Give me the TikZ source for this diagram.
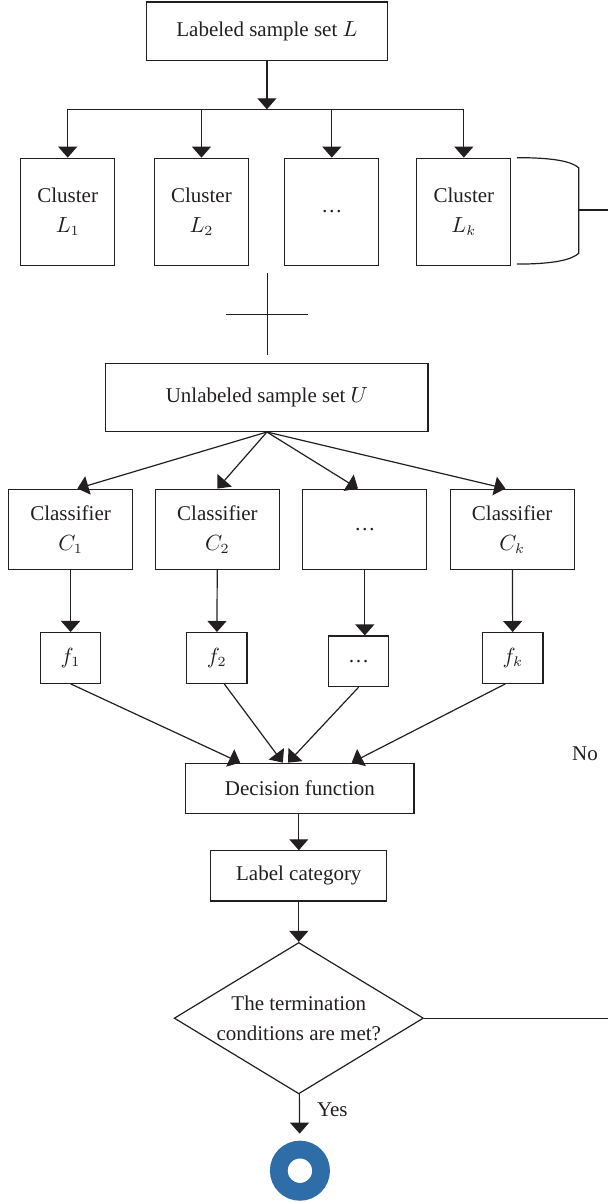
\documentclass[tikz,border=0pt]{standalone}
\usepackage{fontspec}
\setmainfont{Liberation Serif}
\usepackage{tikz}
\usetikzlibrary{positioning,calc,shapes,arrows.meta}
\definecolor{endblue}{RGB}{47,109,168}
\definecolor{ink}{RGB}{35,31,32}
\tikzstyle{box}= [rectangle, draw, align=center, inner sep=0pt]
\tikzstyle{clus}= [box, minimum width=1.65cm, minimum height=1.88cm]
\tikzstyle{clf}= [box, minimum width=2.18cm, minimum height=1.41cm]
\tikzstyle{fbox}= [box, minimum width=1.06cm, minimum height=0.89cm]
\tikzstyle{arr}= [-{Triangle[length=5.5pt,width=9.5pt]}]

\begin{document}
\begin{tikzpicture}[line width=0.6pt, color=ink, font=\fontsize{10.5}{15}\selectfont]
				\useasboundingbox (0,0) rectangle (10.68,-21.12);
				\node[box, minimum width=4.24cm, minimum height=1.03cm] (L) at (4.69, -0.55) {Labeled sample set $L$};
				\coordinate (split) at (4.69, -1.92);
				\node[clus] (L1) at (1.19, -3.72) {Cluster\\$L_1$};
				\node[clus] (L2) at (3.54, -3.72) {Cluster\\$L_2$};
				\node[clus] (L3) at (5.83, -3.72) {\dots};
				\node[clus] (Lk) at (8.15, -3.72) {Cluster\\$L_k$};
				\coordinate (bk) at (10.17, -3.69);
				\coordinate (bkout) at (10.68, -3.69);
				\coordinate (cr1) at (4.70, -4.80);
				\coordinate (cr2) at (4.70, -6.24);
				\coordinate (cr3) at (3.97, -5.52);
				\coordinate (cr4) at (5.42, -5.52);
				\node[box, minimum width=5.66cm, minimum height=1.20cm] (U) at (4.69, -6.98) {Unlabeled sample set $U$};
				\node[clf] (C1) at (1.24, -9.30) {Classifier\\$C_1$};
				\node[clf] (C2) at (3.82, -9.30) {Classifier\\$C_2$};
				\node[clf] (C3) at (6.41, -9.30) {\dots};
				\node[clf] (Ck) at (9.00, -9.30) {Classifier\\$C_k$};
				\node[fbox] (f1) at (1.24, -11.56) {$f_1$};
				\node[fbox] (f2) at (3.81, -11.56) {$f_2$};
				\node[fbox] (f3) at (6.30, -11.62) {\dots};
				\node[fbox] (fk) at (9.01, -11.56) {$f_k$};
				\node[box, minimum width=4.01cm, minimum height=0.88cm] (D) at (5.27, -13.85) {Decision function};
				\node (no) at (10.28, -13.24) {No};
				\node[box, minimum width=3.09cm, minimum height=0.88cm] (LC) at (5.25, -15.39) {Label category};
				\node[diamond, draw, aspect=1.64, inner sep=0pt, minimum width=4.38cm, minimum height=2.66cm, align=center] (Q) at (5.25, -17.89) {The termination\\conditions are met?};
				\coordinate (noout) at (10.68, -17.89);
				\node (yes) at (5.84, -19.49) {Yes};
				\node[circle, draw=endblue, fill=white, line width=0.311cm, minimum size=0.743cm, inner sep=0pt, outer sep=0pt] (stop) at (5.27, -20.57) {};
				\draw[arr] (L) -- (split);
				\draw (L1 |- split) -- (Lk |- split);
				\draw[arr] (L1 |- split) -- (L1);
				\draw[arr] (L2 |- split) -- (L2);
				\draw[arr] (L3 |- split) -- (L3);
				\draw[arr] (Lk |- split) -- (Lk);
				\draw (9.08, -2.77) .. controls (9.75, -2.77) and (10.05, -2.84) .. (10.17, -2.95) -- (10.17, -4.45) .. controls (10.05, -4.56) and (9.75, -4.64) .. (9.08, -4.64);
				\draw (bk) -- (bkout);
				\draw (cr1) -- (cr2);
				\draw (cr3) -- (cr4);
				\draw[arr] (U.south) -- ([xshift=0.12cm]C1.north);
				\draw[arr] (U.south) -- (C2.north);
				\draw[arr] (U.south) -- ([xshift=-0.12cm]C3.north);
				\draw[arr] (U.south) -- ([xshift=-0.12cm]Ck.north);
				\draw[arr] (C1) -- (f1);
				\draw[arr] (C2) -- (f2);
				\draw[arr] (C3.south) -- (C3.south |- f3.north);
				\draw[arr] (Ck) -- (fk);
				\draw[arr] (f1.south) -- ([xshift=-1.05cm]D.north);
				\draw[arr] ([xshift=0.13cm]f2.south) -- ([xshift=-0.30cm]D.north);
				\draw[arr] (f3.south) -- ([xshift=-0.21cm]D.north);
				\draw[arr] ([xshift=-0.13cm]fk.south) -- ([xshift=0.91cm]D.north);
				\draw[arr] (D.south -| LC) -- (LC);
				\draw[arr] (LC) -- (Q);
				\draw (Q.east) -- (noout);
				\draw[arr, shorten >=0.28cm] (Q) -- (stop);
			\end{tikzpicture}
\end{document}
